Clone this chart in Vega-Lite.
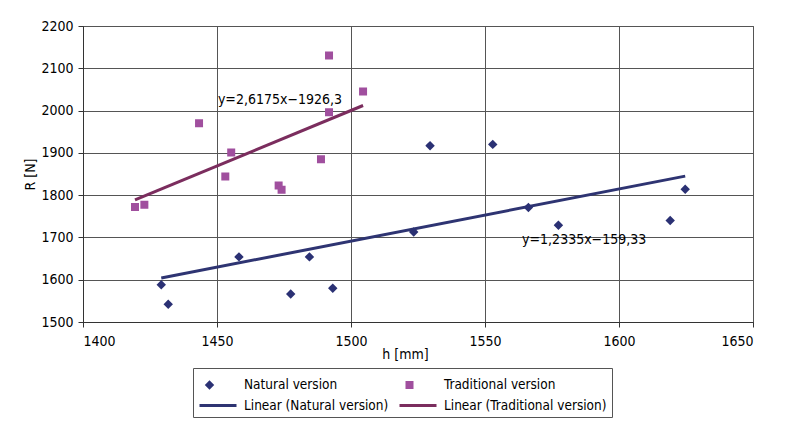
{
  "$schema": "https://vega.github.io/schema/vega-lite/v6.json",
  "autosize": "none",
  "width": 670,
  "height": 296,
  "padding": {"left": 83, "top": 26, "right": 43, "bottom": 102},
  "background": "white",
  "datasets": {
    "pts": [
      {"series": "Natural version", "h": 1429.2, "R": 1588},
      {"series": "Natural version", "h": 1431.8, "R": 1542},
      {"series": "Natural version", "h": 1458.2, "R": 1654},
      {"series": "Natural version", "h": 1477.5, "R": 1566},
      {"series": "Natural version", "h": 1484.5, "R": 1654},
      {"series": "Natural version", "h": 1493.2, "R": 1580},
      {"series": "Natural version", "h": 1523.4, "R": 1713},
      {"series": "Natural version", "h": 1529.5, "R": 1917},
      {"series": "Natural version", "h": 1552.9, "R": 1920},
      {"series": "Natural version", "h": 1566.2, "R": 1771},
      {"series": "Natural version", "h": 1577.4, "R": 1729},
      {"series": "Natural version", "h": 1619.1, "R": 1740},
      {"series": "Natural version", "h": 1624.7, "R": 1814},
      {"series": "Traditional version", "h": 1419.4, "R": 1772},
      {"series": "Traditional version", "h": 1422.9, "R": 1777},
      {"series": "Traditional version", "h": 1443.3, "R": 1970},
      {"series": "Traditional version", "h": 1453.1, "R": 1844},
      {"series": "Traditional version", "h": 1455.3, "R": 1901},
      {"series": "Traditional version", "h": 1473.0, "R": 1823},
      {"series": "Traditional version", "h": 1474.1, "R": 1813},
      {"series": "Traditional version", "h": 1488.8, "R": 1885},
      {"series": "Traditional version", "h": 1491.8, "R": 2130},
      {"series": "Traditional version", "h": 1491.8, "R": 1996},
      {"series": "Traditional version", "h": 1504.5, "R": 2045}
    ],
    "lines": [
      {"series": "Linear (Natural version)", "h": 1429.2, "R": 1604},
      {"series": "Linear (Natural version)", "h": 1624.7, "R": 1845},
      {"series": "Linear (Traditional version)", "h": 1419.4, "R": 1789},
      {"series": "Linear (Traditional version)", "h": 1504.5, "R": 2012}
    ],
    "labels": [
      {"text": "y=2,6175x−1926,3", "h": 1473.5, "R": 2024},
      {"text": "y=1,2335x−159,33", "h": 1587, "R": 1695}
    ]
  },
  "encoding": {
    "x": {
      "field": "h", "type": "quantitative", "title": "h [mm]",
      "scale": {"domain": [1400, 1650], "nice": false, "zero": false},
      "axis": {"values": [1400, 1450, 1500, 1550, 1600, 1650], "format": "d"}
    },
    "y": {
      "field": "R", "type": "quantitative", "title": "R [N]",
      "scale": {"domain": [1500, 2200], "nice": false, "zero": false},
      "axis": {"values": [1500, 1600, 1700, 1800, 1900, 2000, 2100, 2200], "format": "d"}
    }
  },
  "layer": [
    {
      "data": {"name": "lines"},
      "mark": {"type": "line", "strokeWidth": 3},
      "encoding": {
        "color": {
          "field": "series", "type": "nominal", "title": null,
          "scale": {
            "domain": ["Natural version", "Traditional version", "Linear (Natural version)", "Linear (Traditional version)"],
            "range": ["#2b3174", "#a04f9e", "#2e3472", "#7b2d5e"]
          }
        },
        "detail": {"field": "series"}
      }
    },
    {
      "data": {"name": "pts"},
      "mark": {"type": "point", "filled": false, "opacity": 1, "size": 400, "strokeWidth": 3},
      "encoding": {
        "color": {"field": "series", "type": "nominal", "title": null},
        "shape": {
          "field": "series", "type": "nominal", "title": null,
          "scale": {
            "domain": ["Natural version", "Traditional version", "Linear (Natural version)", "Linear (Traditional version)"],
            "range": [
              "M-0.26,0L0,-0.26L0.26,0L0,0.26Z M-0.12,0L0.12,0",
              "M-0.25,-0.25L0.25,-0.25L0.25,0.25L-0.25,0.25Z M-0.25,0L0.25,0",
              "M-1,0L2.7,0",
              "M-1,0L2.7,0"
            ]
          }
        }
      }
    },
    {
      "data": {"name": "labels"},
      "mark": {"type": "text", "font": "DejaVu Sans Condensed", "fontSize": 14, "align": "center", "baseline": "middle", "color": "black"},
      "encoding": {
        "text": {"field": "text"}
      }
    }
  ],
  "config": {
    "view": {"stroke": "#555", "strokeWidth": 1},
    "font": "DejaVu Sans Condensed",
    "axis": {
      "labelFont": "DejaVu Sans Condensed",
      "labelFontSize": 14,
      "labelColor": "black",
      "titleFont": "DejaVu Sans Condensed",
      "titleFontSize": 14,
      "titleFontWeight": "normal",
      "titleColor": "black",
      "grid": true,
      "gridColor": "#555",
      "gridOpacity": 1,
      "domainColor": "#333",
      "tickColor": "#333",
      "tickSize": 5
    },
    "axisX": {"labelPadding": 7, "titlePadding": -1, "titleX": 322},
    "axisY": {"labelPadding": 5, "titlePadding": 3},
    "legend": {
      "orient": "none",
      "legendX": 110,
      "legendY": 342,
      "columns": 2,
      "direction": "horizontal",
      "strokeColor": "#555",
      "padding": 5,
      "labelFont": "DejaVu Sans Condensed",
      "labelFontSize": 13.5,
      "labelColor": "black",
      "labelOffset": 23,
      "labelLimit": 300,
      "symbolSize": 400,
      "symbolStrokeWidth": 3,
      "columnPadding": 4,
      "rowPadding": 0,
      "symbolOpacity": 1
    }
  }
}
